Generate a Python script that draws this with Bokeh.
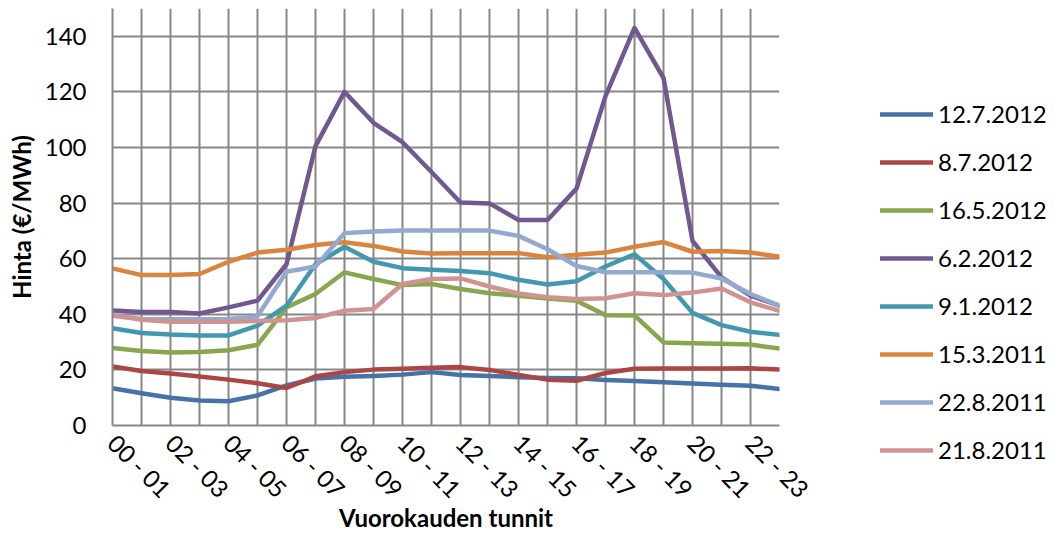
import math
from bokeh.plotting import figure
from bokeh.layouts import row
from bokeh.models import FixedTicker, Legend, LegendItem, Range1d
from bokeh.embed import file_html
from bokeh.resources import INLINE

# ---- data ----
hours = ["%02d - %02d" % (h, h + 1) for h in range(24)]
series_names = ["12.7.2012", "8.7.2012", "16.5.2012", "6.2.2012",
                "9.1.2012", "15.3.2011", "22.8.2011", "21.8.2011"]
s_12_7_2012 = [13.4, 11.6, 10.0, 9.0, 8.7, 10.8, 14.4, 16.9, 17.5, 17.8, 18.3, 19.2,
               18.2, 17.8, 17.4, 17.1, 17.0, 16.4, 16.0, 15.6, 15.1, 14.7, 14.3, 13.1]
s_8_7_2012 = [21.2, 19.6, 18.7, 17.6, 16.5, 15.2, 13.5, 17.7, 19.2, 20.1, 20.4, 20.8,
              21.0, 20.0, 18.2, 16.5, 16.1, 18.9, 20.4, 20.5, 20.5, 20.5, 20.6, 20.1]
s_16_5_2012 = [27.9, 26.8, 26.3, 26.4, 27.1, 29.0, 42.5, 47.3, 55.1, 52.7, 50.5, 50.9,
               49.1, 47.6, 46.7, 45.7, 44.9, 39.7, 39.6, 29.9, 29.6, 29.4, 29.1, 27.7]
s_6_2_2012 = [41.4, 40.8, 40.8, 40.3, 42.5, 44.9, 58.0, 100.5, 120.0, 108.9, 101.9, 91.2,
              80.2, 79.9, 73.9, 73.9, 85.2, 118.5, 143.0, 125.0, 66.4, 53.3, 46.7, 43.1]
s_9_1_2012 = [35.0, 33.3, 32.7, 32.4, 32.4, 35.9, 43.1, 58.0, 64.3, 58.9, 56.6, 56.0,
              55.6, 54.8, 52.4, 50.7, 51.9, 57.2, 61.6, 52.7, 40.5, 36.1, 33.7, 32.6]
s_15_3_2011 = [56.5, 54.1, 54.1, 54.5, 58.9, 62.2, 63.2, 64.9, 65.9, 64.6, 62.6, 61.9,
               62.0, 62.0, 62.0, 60.5, 61.4, 62.2, 64.3, 66.0, 62.5, 62.8, 62.2, 60.7]
s_22_8_2011 = [39.5, 38.3, 38.2, 38.2, 38.3, 39.3, 55.3, 57.2, 69.2, 69.8, 70.1, 70.1,
               70.1, 70.1, 68.2, 63.4, 57.4, 55.1, 55.1, 55.1, 55.0, 52.9, 47.3, 43.1]
s_21_8_2011 = [39.7, 38.0, 37.3, 37.3, 37.3, 37.6, 37.9, 38.7, 41.3, 41.9, 50.9, 52.7,
               52.9, 50.0, 47.5, 46.1, 45.5, 45.8, 47.6, 46.9, 47.8, 49.3, 44.3, 41.2]
series_values = [s_12_7_2012, s_8_7_2012, s_16_5_2012, s_6_2_2012,
                 s_9_1_2012, s_15_3_2011, s_22_8_2011, s_21_8_2011]
colors = ["#4572A7", "#AA4643", "#89A54E", "#71588F",
          "#4198AF", "#DB843D", "#93A9CF", "#D19392"]
y_ticks = [0, 20, 40, 60, 80, 100, 120, 140]

FONT = "Lato"
GRID = "#878787"
H = 542
W_MAIN = 823
W_TOTAL = 1047

p_main = figure(width=W_MAIN, height=H, output_backend="svg", toolbar_location=None,
                x_range=Range1d(0, 23), y_range=Range1d(0, 150),
                min_border_left=112, min_border_right=W_MAIN - 779, min_border_top=8,
                min_border_bottom=H - 8 - 417)
p_main.outline_line_color = None
p_main.background_fill_color = "white"

xs = list(range(len(hours)))
for vals, col in zip(series_values, colors):
    p_main.line(xs, vals, line_color=col, line_width=4.5, line_join="round", line_cap="round")

# x axis
xa = p_main.xaxis[0]
xa.ticker = FixedTicker(ticks=xs)
xa.major_label_overrides = {i: (hours[i] if i % 2 == 0 else "") for i in xs}
xa.major_label_orientation = -math.pi / 4
xa.major_label_text_font = FONT
xa.major_label_text_font_size = "24px"
xa.major_label_text_color = "black"
xa.major_label_standoff = 13
xa.major_tick_out = 0
xa.major_tick_in = 0
xa.minor_tick_line_color = None
xa.axis_line_color = GRID
xa.axis_line_width = 2
xa.axis_label = "Vuorokauden tunnit"
xa.axis_label_text_font = FONT
xa.axis_label_text_font_style = "bold"
xa.axis_label_text_font_size = "24px"
xa.axis_label_text_color = "black"
xa.axis_label_standoff = -13

# y axis
ya = p_main.yaxis[0]
ya.ticker = FixedTicker(ticks=y_ticks)
ya.major_label_text_font = FONT
ya.major_label_text_font_size = "24px"
ya.major_label_text_color = "black"
ya.major_label_standoff = 26
ya.major_tick_out = 0
ya.major_tick_in = 0
ya.minor_tick_line_color = None
ya.axis_line_color = GRID
ya.axis_line_width = 2
ya.axis_label = "Hinta (€/MWh)"
ya.axis_label_text_font = FONT
ya.axis_label_text_font_style = "bold"
ya.axis_label_text_font_size = "24px"
ya.axis_label_text_color = "black"
ya.axis_label_standoff = 6

p_main.xgrid.grid_line_color = GRID
p_main.xgrid.grid_line_width = 2
p_main.ygrid.grid_line_color = GRID
p_main.ygrid.grid_line_width = 2

# legend panel: separate figure right of the plot area (its lines are out of view)
p_leg = figure(width=W_TOTAL - W_MAIN, height=H, output_backend="svg", toolbar_location=None,
               x_axis_location=None, y_axis_location=None,
               x_range=Range1d(100, 101), y_range=Range1d(0, 150),
               min_border_left=0, min_border_right=0, min_border_top=0, min_border_bottom=0)
try:
    p_leg.frame_align = False
    p_main.frame_align = False
    LEG_Y = 72 + (H - 536)
except AttributeError:
    LEG_Y = -40
p_leg.outline_line_color = None
p_leg.xgrid.visible = False
p_leg.ygrid.visible = False
items = []
for name, vals, col in zip(series_names, series_values, colors):
    r = p_leg.line(xs, vals, line_color=col, line_width=4.5, line_cap="round")
    items.append(LegendItem(label=name, renderers=[r]))
legend = Legend(items=items, location=(57, LEG_Y), orientation="vertical",
                padding=0, margin=0, spacing=19, glyph_width=53, glyph_height=24,
                label_standoff=5, label_text_font=FONT, label_text_font_size="24px",
                label_text_color="black", border_line_color=None,
                background_fill_alpha=0)
p_leg.add_layout(legend, "center")

p = row(p_main, p_leg)

open("out.html", "w").write(file_html(p, INLINE))
